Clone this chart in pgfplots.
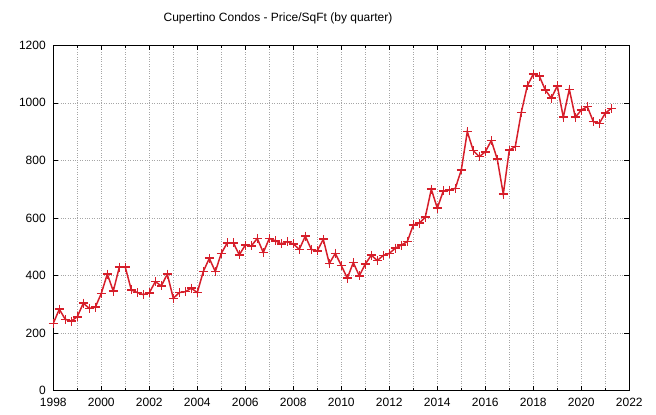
\documentclass[border=0pt]{standalone}
\usepackage{pgfplots}
\pgfplotsset{compat=1.18}
\usepackage{fontspec}
\setmainfont{Liberation Sans}
\definecolor{gpred}{RGB}{214,30,42}
\begin{document}
\begin{tikzpicture}
\useasboundingbox (-53.3pt,-24.3pt) rectangle (602.7pt,390.7pt);
\begin{axis}[
  at={(0,0)}, anchor=south west,
  scale only axis, width=576pt, height=345.4pt,
  xmin=1998, xmax=2022, ymin=0, ymax=1200,
  xtick={1998,2000,...,2022}, minor xtick={1999,2001,...,2021},
  ytick={0,200,...,1200},
  grid=both,
  major grid style={gray!70, dotted, line width=0.6pt},
  minor grid style={gray!70, dotted, line width=0.6pt},
  tick align=inside,
  major tick length=5pt, minor tick length=3pt,
  tick style={black, line width=0.6pt},
  axis line style={black, line width=0.8pt},
  /pgf/number format/1000 sep={},
  /pgf/number format/assume math mode=true,
  tick label style={font=\fontsize{12}{14}\selectfont},
  xticklabel style={yshift=-4pt},
  yticklabel style={xshift=-4pt},
]
\addplot[color=gpred, line width=1.5pt, mark=+, mark size=4.5pt,
  every mark/.append style={color=gpred, solid, line width=1.6pt}] table {
x y
1998.00 234
1998.25 283
1998.50 248
1998.75 242
1999.00 257
1999.25 304
1999.50 286
1999.75 290
2000.00 338
2000.25 405
2000.50 346
2000.75 429
2001.00 429
2001.25 350
2001.50 341
2001.75 334
2002.00 340
2002.25 379
2002.50 364
2002.75 405
2003.00 321
2003.25 341
2003.50 344
2003.75 356
2004.00 341
2004.25 414
2004.50 460
2004.75 414
2005.00 477
2005.25 514
2005.50 514
2005.75 472
2006.00 506
2006.25 503
2006.50 529
2006.75 480
2007.00 529
2007.25 521
2007.50 510
2007.75 518
2008.00 510
2008.25 491
2008.50 537
2008.75 491
2009.00 486
2009.25 526
2009.50 442
2009.75 477
2010.00 435
2010.25 391
2010.50 445
2010.75 399
2011.00 440
2011.25 471
2011.50 452
2011.75 470
2012.00 477
2012.25 495
2012.50 506
2012.75 518
2013.00 576
2013.25 582
2013.50 603
2013.75 700
2014.00 634
2014.25 694
2014.50 697
2014.75 703
2015.00 767
2015.25 900
2015.50 834
2015.75 813
2016.00 830
2016.25 869
2016.50 804
2016.75 683
2017.00 836
2017.25 848
2017.50 967
2017.75 1059
2018.00 1100
2018.25 1093
2018.50 1045
2018.75 1016
2019.00 1059
2019.25 950
2019.50 1047
2019.75 950
2020.00 975
2020.25 987
2020.50 935
2020.75 929
2021.00 964
2021.25 981
};
\end{axis}
\node[font=\fontsize{12}{14}\selectfont] at (224.7pt,372.7pt) {Cupertino Condos - Price/SqFt (by quarter)};
\end{tikzpicture}
\end{document}
